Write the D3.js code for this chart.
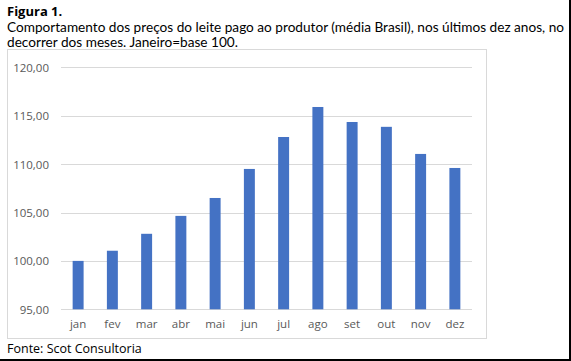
<!DOCTYPE html>
<html><head><meta charset="utf-8">
<script src="https://cdn.jsdelivr.net/npm/d3@7"></script>
<style>html,body{margin:0;padding:0;background:#fff;}svg{display:block;}</style>
</head><body>
<svg id="c" width="571" height="361"></svg>
<script>
const categories = ["jan","fev","mar","abr","mai","jun","jul","ago","set","out","nov","dez"];
const values = [100.0, 101.05, 102.8, 104.65, 106.5, 109.5, 112.8, 115.9, 114.35, 113.85, 111.05, 109.6];
const yTicks = [95,100,105,110,115,120];
const titleText = "Figura 1.";
const subtitleLines = ["Comportamento dos preços do leite pago ao produtor (média Brasil), nos últimos dez anos, no","decorrer dos meses. Janeiro=base 100."];
const sourceText = "Fonte: Scot Consultoria";

const svg = d3.select("#c");
const font = "'Open Sans', 'Noto Sans', sans-serif";
const subFont = "Lato, 'Open Sans', sans-serif";

svg.append("text").attr("x",7).attr("y",15.5).attr("font-family",font).attr("font-weight","bold")
  .attr("font-size",13).attr("fill","#000").text(titleText);
const subLens = [557, 231];
subtitleLines.forEach((t,i)=>{
  svg.append("text").attr("font-family",subFont).attr("font-size",12.4).attr("fill","#000")
    .attr("x",7).attr("y",32+i*15.2).attr("textLength",subLens[i])
    .attr("lengthAdjust","spacingAndGlyphs").text(t);
});

svg.append("rect").attr("x",7.5).attr("y",49.5).attr("width",479).attr("height",289)
  .attr("fill","#fff").attr("stroke","#d9d9d9").attr("stroke-width",1);

const x = d3.scaleBand().domain(categories).range([61,472]).paddingInner(0.68).paddingOuter(0.34);
const y = d3.scaleLinear().domain([95,120]).range([309.3,67.3]);

const g = svg.append("g");
g.selectAll("line.grid").data(yTicks).join("line").attr("class","grid")
  .attr("x1",61).attr("x2",472).attr("y1",d=>Math.round(y(d))+0.5).attr("y2",d=>Math.round(y(d))+0.5)
  .attr("stroke","#d9d9d9").attr("stroke-width",1);

g.selectAll("rect.bar").data(values).join("rect").attr("class","bar")
  .attr("x",(d,i)=>x(categories[i])).attr("width",x.bandwidth())
  .attr("y",d=>y(d)).attr("height",d=>y(95)-y(d)).attr("fill","#4472c4");

const yAxis = d3.axisLeft(y).tickValues(yTicks).tickSize(0).tickPadding(0)
  .tickFormat(d=>d3.format(".2f")(d).replace(".",","));
const ya = svg.append("g").attr("transform","translate(49,0)").call(yAxis);
ya.select(".domain").remove();
ya.selectAll("text").attr("font-family",font).attr("font-size",11.5).attr("fill","#595959").attr("dy","0.35em");

const xAxis = d3.axisBottom(x).tickSize(0).tickPadding(0);
const xa = svg.append("g").attr("transform","translate(0,320)").call(xAxis);
xa.select(".domain").remove();
xa.selectAll("text").attr("font-family",font).attr("font-size",11.5).attr("fill","#595959").attr("dy","0.71em");

svg.append("text").attr("x",7).attr("y",353).attr("font-family",font).attr("font-size",12.5)
  .attr("fill","#000").text(sourceText);

svg.append("line").attr("x1",570).attr("x2",570).attr("y1",0).attr("y2",361).attr("stroke","#000").attr("stroke-width",2);
svg.append("line").attr("x1",0).attr("x2",571).attr("y1",360).attr("y2",360).attr("stroke","#000").attr("stroke-width",2);
</script>
</body></html>
